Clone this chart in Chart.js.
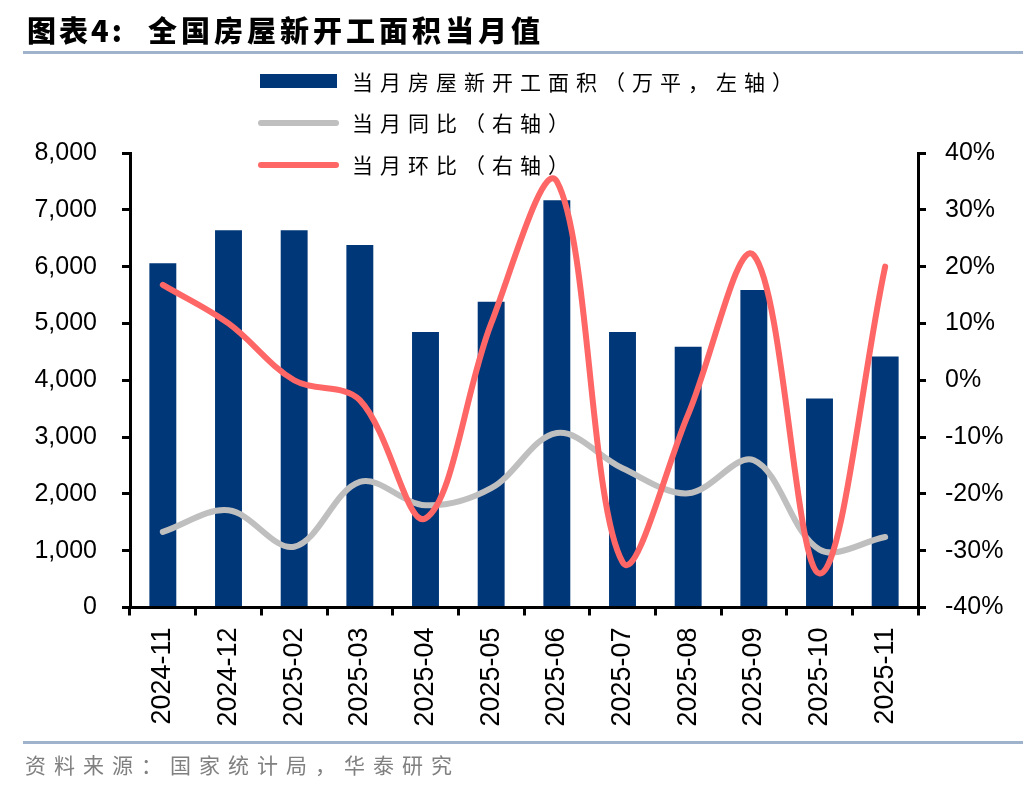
<!DOCTYPE html>
<html>
<head>
<meta charset="utf-8">
<script src="https://cdn.jsdelivr.net/npm/chart.js@4/dist/chart.umd.min.js"></script>
<style>
    html, body { margin: 0; padding: 0; background: #fff; }
    #wrap { width: 1036px; height: 792px; position: relative; }
</style>
</head>
<body>
<div id="wrap"><canvas id="chart"></canvas></div>
<script>
const months = ['2024-11', '2024-12', '2025-02', '2025-03', '2025-04', '2025-05',
    '2025-06', '2025-07', '2025-08', '2025-09', '2025-10', '2025-11'];
// 当月房屋新开工面积（万平）
const newStarts = [6060, 6640, 6640, 6380, 4850, 5380, 7170, 4850, 4590, 5590, 3680, 4420];
// 当月同比（%）
const yoy = [-26.7, -22.9, -29.3, -17.9, -22.0, -19.0, -9.3, -15.5, -19.9, -14.1, -29.8, -27.6];
// 当月环比（%）
const mom = [16.8, 10.0, 0.0, -3.5, -24.3, 10.0, 35.0, -32.0, -6.0, 22.0, -34.0, 20.0];

const leftTicks = [0, 1000, 2000, 3000, 4000, 5000, 6000, 7000, 8000];
const rightTicks = [-40, -30, -20, -10, 0, 10, 20, 30, 40];

const legendLabels = ['当月房屋新开工面积（万平，左轴）', '当月同比（右轴）', '当月环比（右轴）'];

const NAVY = '#003778';
const GREY = '#bfbfbf';
const RED = '#ff6666';
const numFont = { family: '"Liberation Sans", Arial, sans-serif', size: 25 };
const cjk = '"Noto Sans CJK SC", sans-serif';

// title, legend and source are drawn over the chart
const decor = {
    id: 'decor',
    afterDraw(chart) {
        const ctx = chart.ctx;
        ctx.save();

        ctx.fillStyle = '#000';
        ctx.textBaseline = 'middle';
        ctx.font = '900 29px ' + cjk;
        ctx.letterSpacing = '3px';
        ctx.fillText('图表4:', 27, 31);
        ctx.letterSpacing = '4px';
        ctx.fillText('全国房屋新开工面积当月值', 148, 31);

        ctx.fillStyle = '#9fb4cc';
        ctx.fillRect(23, 51, 1000, 3);
        ctx.fillRect(23, 741, 1000, 3);

        ctx.fillStyle = '#808080';
        ctx.font = '21px ' + cjk;
        ctx.letterSpacing = '8px';
        ctx.fillText('资料来源：国家统计局，华泰研究', 25, 765);

        // legend
        const rows = [82, 123, 165];
        ctx.font = '21px ' + cjk;
        ctx.letterSpacing = '7px';
        rows.forEach((y, i) => {
            if (i === 0) {
                ctx.fillStyle = NAVY;
                ctx.fillRect(260, 74, 77, 14);
            } else {
                ctx.strokeStyle = i === 1 ? GREY : RED;
                ctx.lineWidth = 6;
                ctx.lineCap = 'round';
                ctx.beginPath();
                ctx.moveTo(261, y);
                ctx.lineTo(336, y);
                ctx.stroke();
            }
            ctx.fillStyle = '#000';
            ctx.fillText(legendLabels[i], 352, y);
        });

        ctx.restore();
    },
};

const axisGrid = {
    drawOnChartArea: false,
    drawTicks: true,
    tickLength: 8,
    color: '#000',
    lineWidth: 3,
};

new Chart(document.getElementById('chart'), {
    type: 'bar',
    data: {
        labels: months,
        datasets: [
            {
                type: 'line',
                label: legendLabels[2],
                data: mom,
                yAxisID: 'y1',
                borderColor: RED,
                borderWidth: 6,
                borderCapStyle: 'round',
                tension: 0.35,
                pointRadius: 0,
                order: 0,
            },
            {
                type: 'line',
                label: legendLabels[1],
                data: yoy,
                yAxisID: 'y1',
                borderColor: GREY,
                borderWidth: 6,
                borderCapStyle: 'round',
                tension: 0.35,
                pointRadius: 0,
                order: 1,
            },
            {
                label: legendLabels[0],
                data: newStarts,
                yAxisID: 'y',
                backgroundColor: NAVY,
                categoryPercentage: 1,
                barPercentage: 0.41,
                order: 2,
            },
        ],
    },
    options: {
        responsive: true,
        maintainAspectRatio: false,
        animation: false,
        layout: { padding: { top: 153, left: 0, right: 0, bottom: 0 } },
        plugins: {
            legend: { display: false },
            tooltip: { enabled: false },
        },
        scales: {
            x: {
                grid: axisGrid,
                border: { display: true, color: '#000', width: 3 },
                ticks: {
                    color: '#000',
                    font: { family: numFont.family, size: 27 },
                    minRotation: 90,
                    maxRotation: 90,
                    autoSkip: false,
                    padding: 12,
                },
                afterFit(scale) { scale.height = 184.5; },
            },
            y: {
                position: 'left',
                min: 0,
                max: 8000,
                afterBuildTicks(scale) { scale.ticks = leftTicks.map((v) => ({ value: v })); },
                grid: axisGrid,
                border: { display: true, color: '#000', width: 3 },
                ticks: {
                    color: '#000',
                    font: numFont,
                    padding: 25,
                    callback: (v) => v.toLocaleString('en-US'),
                },
                afterFit(scale) { scale.width = 130; },
            },
            y1: {
                position: 'right',
                min: -40,
                max: 40,
                afterBuildTicks(scale) { scale.ticks = rightTicks.map((v) => ({ value: v })); },
                grid: axisGrid,
                border: { display: true, color: '#000', width: 3 },
                ticks: {
                    color: '#000',
                    font: numFont,
                    padding: 19,
                    callback: (v) => v + '%',
                },
                afterFit(scale) { scale.width = 118; },
            },
        },
    },
    plugins: [decor],
});
</script>
</body>
</html>
